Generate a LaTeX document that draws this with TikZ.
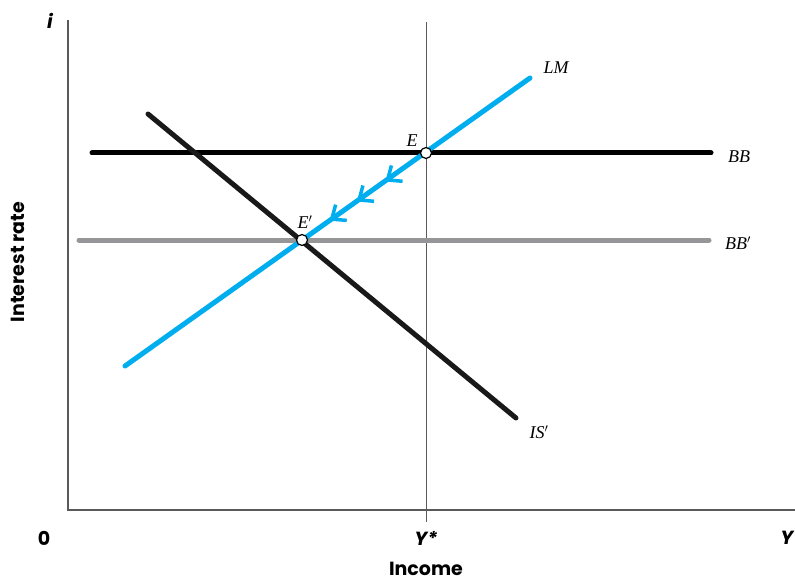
\documentclass[tikz,border=0pt]{standalone}
\usepackage{fontspec}
\setmainfont{Liberation Serif}
\newfontfamily\axfont{Poppins}
\usetikzlibrary{calc}
\definecolor{lmblue}{RGB}{0,174,239}
\definecolor{bbgray}{RGB}{150,150,152}
\definecolor{axgray}{RGB}{90,90,90}
\tikzset{
  curve/.style={line width=5pt,line cap=round},
  curvelabel/.style={font=\fontsize{18}{18}\selectfont\itshape,inner sep=0pt},
  axlabel/.style={font=\fontsize{19}{19}\selectfont\axfont\bfseries,inner sep=0pt},
  eqpt/.style={circle,draw=black,fill=white,line width=1.2pt,inner sep=0pt,minimum size=11pt},
  chevron/.style={draw=lmblue,line width=3.5pt,line join=miter,line cap=butt},
}
\begin{document}
\begin{tikzpicture}[x=1pt,y=-1pt]
\useasboundingbox (0,0) rectangle (795,583);
% axes
\coordinate (otop) at (68,20);
\coordinate (o) at (68,510);
\coordinate (xend) at (797,510);
\draw[axgray,line width=1.6pt] (otop) -- (o) -- (xend);
% Y* line
\coordinate (ytop) at (426,22);
\coordinate (ybot) at (426,522);
\draw[axgray,line width=0.8pt] (ytop) -- (ybot);
% curves
\coordinate (bba) at (92,153); \coordinate (bbb) at (711,153);
\coordinate (bbpa) at (79,240); \coordinate (bbpb) at (709,240);
\coordinate (lma) at (125,366); \coordinate (lmb) at (530,78);
\coordinate (isa) at (148,114); \coordinate (isb) at (516,418);
\draw[curve,bbgray] (bbpa) -- (bbpb);
\draw[curve,black] (bba) -- (bbb);
\draw[curve,black!90] (isa) -- (isb);
\draw[curve,lmblue] (lma) -- (lmb);
% arrows along LM
\coordinate (E) at (426,153);
\coordinate (Ep) at (302,240);
\foreach \f/\n in {0.31/c1,0.54/c2,0.76/c3}{
  \coordinate (\n) at ($(E)!\f!(Ep)$);
  \draw[chevron] (\n) ++(15,1.3) -- (\n) -- ++(3.9,-14.5);
}
\node[eqpt] (e) at (E) {};
\node[eqpt] (ep) at (Ep) {};
% labels
\node[curvelabel] (lml) at (556,68) {LM};
\node[curvelabel] (bbl) at (739,157) {BB};
\node[curvelabel] (bbpl) at (738,243) {BB$'$};
\node[curvelabel] (isl) at (539,432) {IS$'$};
\node[curvelabel] (el) at (412,141) {E};
\node[curvelabel] (epl) at (305,222) {E$'$};
\node[axlabel] (il) at (50,21) {\itshape i};
\node[axlabel] (zl) at (44,538) {0};
\node[axlabel] (ysl) at (426,538) {\itshape Y*};
\node[axlabel] (yl) at (787,538) {\itshape Y};
\node[axlabel] (inc) at (426,569) {Income};
\node[axlabel,rotate=90] (ir) at (18,262) {Interest rate};
\end{tikzpicture}
\end{document}
